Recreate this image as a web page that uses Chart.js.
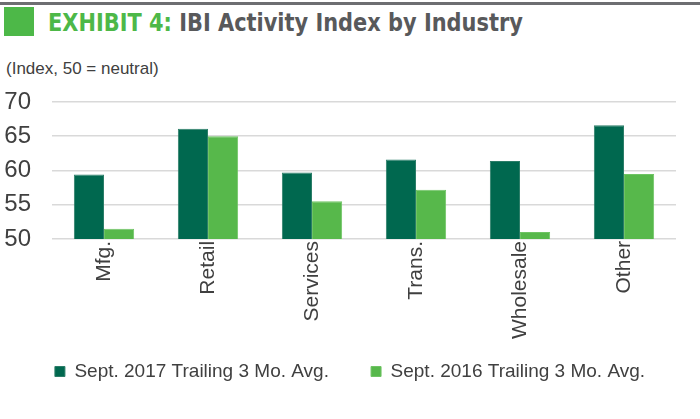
<!DOCTYPE html>
<html>
<head>
<meta charset="utf-8">
<script src="https://cdn.jsdelivr.net/npm/chart.js@4.4.0/dist/chart.umd.min.js"></script>
<style>
  html, body { margin: 0; padding: 0; background: #fff; overflow: hidden; }
  body { width: 700px; height: 419px; position: relative; }
  #topline { position: absolute; left: 0; top: 2px; width: 700px; height: 3px; background: #6d6e71; }
  #square { position: absolute; left: 4px; top: 7px; width: 30px; height: 29px; background: #4db848; }
  #title { position: absolute; left: 48px; top: 8px; font-family: "Liberation Sans Narrow", "DejaVu Sans Condensed", sans-serif;
           font-weight: bold; font-size: 25px; color: #58595b; white-space: nowrap; transform: scaleX(0.93); transform-origin: left top; }
  #title span { color: #4db848; }
  #sub { position: absolute; left: 6px; top: 59px; font-family: "Liberation Sans", Arial, sans-serif; font-size: 17px; color: #404040; }
  #wrap { position: absolute; left: 0; top: 0; width: 700px; height: 419px; }
</style>
</head>
<body>
<div id="topline"></div>
<div id="square"></div>
<div id="title"><span>EXHIBIT 4:</span> IBI Activity Index by Industry</div>
<div id="sub">(Index, 50 = neutral)</div>
<div id="wrap"><canvas id="chart"></canvas></div>
<script>
const industries = ['Mfg.', 'Retail', 'Services', 'Trans.', 'Wholesale', 'Other'];
const sept2017 = [59.4, 66.1, 59.7, 61.6, 61.4, 66.6];
const sept2016 = [51.5, 65.0, 55.5, 57.2, 51.0, 59.5];
const seriesNames = ['Sept. 2017 Trailing 3 Mo. Avg.', 'Sept. 2016 Trailing 3 Mo. Avg.'];

const textColor = '#404040';
const font = '"Liberation Sans", Arial, sans-serif';

// nudge the legend a little to the right, like the original
const legendShift = {
  id: 'legendShift',
  afterLayout(chart) {
    chart.legend.left += 10;
    chart.legend.right += 10;
  }
};

new Chart(document.getElementById('chart'), {
  type: 'bar',
  data: {
    labels: industries,
    datasets: [{
      label: seriesNames[0],
      data: sept2017,
      backgroundColor: '#00684f',
      borderColor: '#2b7d68',
      borderWidth: 1,
      categoryPercentage: 0.58,
      barPercentage: 1
    }, {
      label: seriesNames[1],
      data: sept2016,
      backgroundColor: '#57b84b',
      borderColor: '#6fc464',
      borderWidth: 1,
      categoryPercentage: 0.58,
      barPercentage: 1
    }]
  },
  plugins: [legendShift],
  options: {
    responsive: true,
    maintainAspectRatio: false,
    animation: false,
    layout: { padding: { top: 102, left: 4, right: 24, bottom: 28 } },
    plugins: {
      tooltip: { enabled: false },
      legend: {
        position: 'bottom',
        labels: {
          boxWidth: 10,
          boxHeight: 10,
          padding: 21,
          color: textColor,
          font: { family: font, size: 19 },
          // widen the gap after the first item
          generateLabels(c) {
            const items = Chart.defaults.plugins.legend.labels.generateLabels(c);
            items[0].text += '    ';
            return items;
          }
        }
      }
    },
    scales: {
      x: {
        grid: { display: false, drawTicks: false },
        border: { display: false },
        ticks: {
          minRotation: 90,
          maxRotation: 90,
          padding: 2,
          color: textColor,
          font: { family: font, size: 21 }
        }
      },
      y: {
        min: 50,
        max: 70,
        border: { display: false },
        grid: { color: '#d9d9d9', lineWidth: 1.5, drawTicks: false },
        afterFit(scale) { scale.width = 48; },
        ticks: {
          stepSize: 5,
          padding: 21,
          color: textColor,
          font: { family: font, size: 24 }
        }
      }
    }
  }
});
</script>
</body>
</html>
